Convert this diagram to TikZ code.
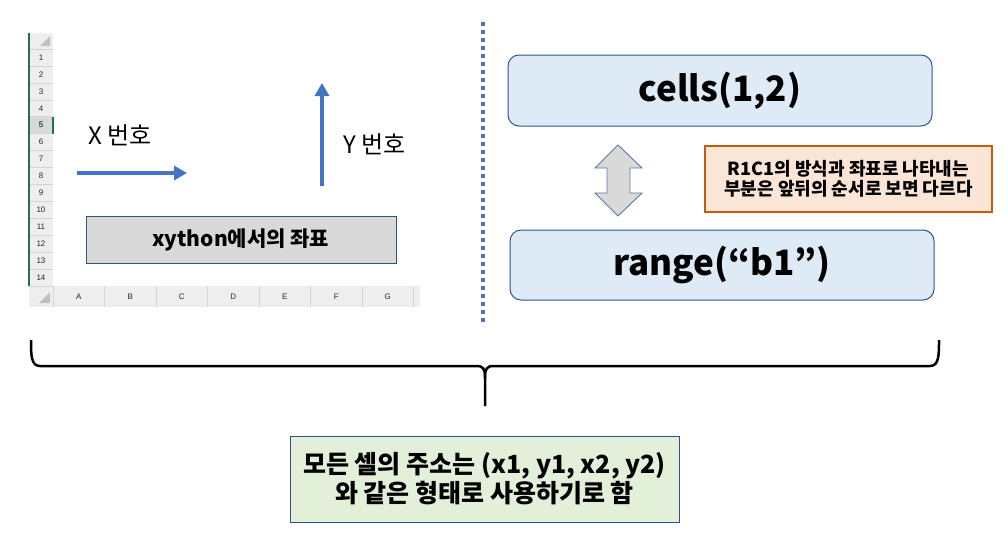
\documentclass[tikz,border=0pt]{standalone}
\usepackage{fontspec}
\setmainfont{Noto Sans CJK KR}
\newfontfamily\xlfont{Liberation Sans}
\usetikzlibrary{arrows.meta}
\definecolor{accblue}{HTML}{4472C4}
\definecolor{bordblue}{HTML}{2F528F}
\definecolor{lblue}{HTML}{DEEBF7}
\definecolor{lgray}{HTML}{D9D9D9}
\definecolor{lorange}{HTML}{FBE5D6}
\definecolor{dorange}{HTML}{C55A11}
\definecolor{lgreen}{HTML}{E2F0D9}
\definecolor{xlgreen}{HTML}{217346}
\definecolor{hdrgray}{HTML}{EEEEEE}
\definecolor{seprgray}{HTML}{D4D4D4}
\tikzset{
  hdrnum/.style={font=\xlfont\fontsize{8}{9}\selectfont, text=black!85, inner sep=0pt},
  sqbox/.style={draw=bordblue, line width=1pt, inner sep=0pt, align=center},
  rbox/.style={draw=bordblue, line width=1pt, fill=lblue, rounded corners=11pt, inner sep=0pt, font=\bfseries\fontsize{35}{38}\selectfont},
  bluearrow/.style={draw=accblue, line width=4pt, -{Triangle[length=13pt,width=14pt]}},
  lbl/.style={font=\fontsize{24}{26}\selectfont, inner sep=0pt, anchor=west},
}
\begin{document}
\begin{tikzpicture}[x=1pt,y=-1pt]
\useasboundingbox (0,0) rectangle (1008,538);
% ---- spreadsheet background ----
\fill[hdrgray] (29,33) rectangle (53,286);
\fill[hdrgray] (29,286) rectangle (420,307);
\fill[lgray] (29,117) rectangle (53,134);
\fill[black!25] (50,46) -- (50,36) -- (40,46) -- cycle;
\fill[black!25] (50,303) -- (50,292) -- (39,303) -- cycle;
\draw[seprgray, line width=0.5pt] (29,49) -- (53,49);
\foreach \i in {1,...,14}{
  \pgfmathsetmacro{\yt}{49+16.93*(\i-1)}
  \pgfmathsetmacro{\yb}{49+16.93*\i}
  \draw[seprgray, line width=0.5pt] (29,\yb) -- (53,\yb);
  \node[hdrnum] (r\i) at (41,{(\yt+\yb)/2}) {\i};
}
\node[hdrnum, text=xlgreen] at (r5) {5};
\draw[xlgreen, line width=1.2pt] (29,33) -- (29,286);
\draw[xlgreen, line width=1.2pt] (53,117) -- (53,134);
\draw[seprgray, line width=0.5pt] (53,286) -- (53,307);
\foreach \c [count=\j] in {A,B,C,D,E,F,G}{
  \pgfmathsetmacro{\xl}{53+51.5*(\j-1)}
  \pgfmathsetmacro{\xr}{53+51.5*\j}
  \draw[seprgray, line width=0.5pt] (\xr,286) -- (\xr,307);
  \node[hdrnum] (c\c) at ({(\xl+\xr)/2},296.5) {\c};
}
% ---- axis arrows ----
\coordinate (xs) at (77,173);
\coordinate (xe) at (187,173);
\coordinate (ys) at (322,186);
\coordinate (ye) at (322,83);
\draw[bluearrow] (xs) -- (xe);
\draw[bluearrow] (ys) -- (ye);
\node[lbl] (xlab) at (88,135) {X 번호};
\node[lbl] (ylab) at (343,144) {Y 번호};
\node[sqbox, fill=lgray, minimum width=310pt, minimum height=47pt, font=\bfseries\fontsize{21}{24}\selectfont] (xy) at (241,239.5) {xython에서의 좌표};
% ---- dotted separator ----
\coordinate (dt) at (482.5,22);
\coordinate (db) at (482.5,326);
\draw[accblue, line width=4pt, dash pattern=on 4pt off 4pt] (dt) -- (db);
% ---- right side ----
\node[rbox, minimum width=424pt, minimum height=71pt] (cells) at (720,90.5) {cells(1,2)};
\node[rbox, minimum width=424pt, minimum height=70pt] (range) at (722,265) {range(“b1”)};
\draw[draw=accblue!60!gray, fill=lgray, line width=0.9pt]
  (618,145) -- (642,168) -- (630,168) -- (630,193) -- (642,193) -- (618,216)
  -- (595,193) -- (607,193) -- (607,168) -- (595,168) -- cycle;
\node[sqbox, draw=dorange, line width=2.5pt, fill=lorange, minimum width=287pt, minimum height=66pt, font=\bfseries\fontsize{18}{20}\selectfont] (note) at (848.5,179) {R1C1의 방식과 좌표로 나타내는\\부분은 앞뒤의 순서로 보면 다르다};
% ---- brace ----
\coordinate (bl) at (31,340);
\coordinate (br) at (939,340);
\coordinate (bt) at (485,406);
\draw[black, line width=2.5pt, line join=round]
  (bl) .. controls (31,355) and (31,366) .. (40,366) -- (476,366)
  .. controls (483,366) and (485,368) .. (485,378) -- (bt);
\draw[black, line width=2.5pt, line join=round]
  (br) .. controls (939,355) and (939,366) .. (930,366) -- (494,366)
  .. controls (487,366) and (485,368) .. (485,378);
% ---- summary ----
\node[sqbox, fill=lgreen, minimum width=389pt, minimum height=86pt, font=\bfseries\fontsize{25}{29}\selectfont] (sum) at (484.5,479) {모든 셀의 주소는 (x1, y1, x2, y2)\\와 같은 형태로 사용하기로 함};
\end{tikzpicture}
\end{document}
